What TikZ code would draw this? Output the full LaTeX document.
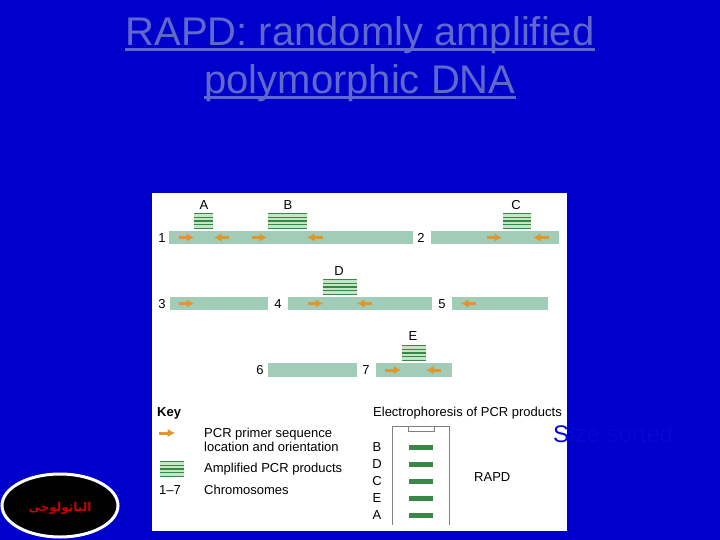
\documentclass[tikz,border=0pt]{standalone}
\usepackage{fontspec}
\setmainfont{Liberation Sans}
\newfontfamily\arabicfont[Script=Arabic]{DejaVu Sans}
\TeXXeTstate=1
\usetikzlibrary{calc,shapes.geometric,arrows.meta}
\tikzset{>={Latex[length=7.5pt,width=8.5pt]}}
\definecolor{slideblue}{RGB}{0,0,204}
\definecolor{titleblue}{RGB}{96,104,204}
\definecolor{sizeblue}{RGB}{6,6,214}
\definecolor{chromgreen}{RGB}{160,204,184}
\definecolor{primerorange}{RGB}{224,150,40}
\definecolor{bandgreen}{RGB}{58,136,72}
\definecolor{stackgreen}{RGB}{196,230,198}
\tikzset{
  chrom/.style={fill=chromgreen, draw=none},
  primer/.style={->, line width=3pt, primerorange},
  stackline/.style={line width=1.3pt, bandgreen},
  lab/.style={font=\fontsize{13}{15}\selectfont, inner sep=0pt, text=black},
  keylab/.style={lab, anchor=base west},
  titletext/.style={font=\fontsize{40}{44}\selectfont, inner sep=0pt, text=titleblue, anchor=base},
  titlerule/.style={line width=2.2pt, titleblue}
}
% one stack of amplified products: left, right, top
\newcommand{\ampstack}[3]{
  \fill[stackgreen] (#1, #3) rectangle (#2, #3+16);
  \foreach \k in {0, 1, 2, 3, 4} {
    \draw[stackline] (#1, #3+0.6+3.7*\k) -- (#2, #3+0.6+3.7*\k);
  }
}
\begin{document}
\begin{tikzpicture}[x=1pt, y=-1pt]
  \useasboundingbox (0, 0) rectangle (720, 540);
  \fill[slideblue] (0, 0) rectangle (720, 540);
  \fill[white] (152, 193) rectangle (567, 531);

  % title
  \node[titletext] (titleA) at (360, 46) {RAPD: randomly amplified};
  \node[titletext] (titleB) at (360, 94) {polymorphic DNA};
  \draw[titlerule] ([yshift=-3.5pt]titleA.base west) -- ([yshift=-3.5pt]titleA.base east);
  \draw[titlerule] ([yshift=-3.5pt]titleB.base west) -- ([yshift=-3.5pt]titleB.base east);

  % chromosomes
  \foreach \xa/\xb/\ya/\yb in {169/413/231/244, 431/559/231/244, 170/268/297/310, 288/432/297/310,
      452/548/297/310, 268/357/363/377, 376/452/363/377} {
    \fill[chrom] (\xa, \ya) rectangle (\xb, \yb);
  }
  \foreach \n/\x/\y in {1/162/238, 2/421/238, 3/162/304, 4/278/304, 5/442/304, 6/260/370, 7/366/370} {
    \node[lab] (chrom\n) at (\x, \y) {\n};
  }

  % primers
  \foreach \xa/\xb/\y in {179/194/237.5, 229/214/237.5, 252/267/237.5, 323/307/237.5, 487/502/237.5,
      549/533/237.5, 179/194/303.5, 308/323/303.5, 372/357/303.5, 476/461/303.5, 385/401/370, 441/426/370} {
    \draw[primer] (\xa, \y) -- (\xb, \y);
  }

  % products
  \ampstack{194}{213}{213}
  \ampstack{268}{307}{213}
  \ampstack{503}{531}{213}
  \ampstack{323}{357}{279}
  \ampstack{402}{426}{345}
  \foreach \n/\x/\y in {A/204/205, B/288/205, C/516/205, D/339/271, E/413/336} {
    \node[lab] (prod\n) at (\x, \y) {\n};
  }

  % key
  \node[keylab, font=\fontsize{13}{15}\selectfont\bfseries] (keyhead) at (157, 416) {Key};
  \draw[primer] (159, 433) -- (175, 433);
  \ampstack{160}{184}{461}
  \node[keylab] (keyA) at (204, 437) {PCR primer sequence};
  \node[keylab] (keyB) at (204, 451) {location and orientation};
  \node[keylab] (keyC) at (204, 472) {Amplified PCR products};
  \node[keylab] (keyD) at (159, 494) {1--7};
  \node[keylab] (keyE) at (204, 494) {Chromosomes};

  % gel
  \node[keylab] (gelhead) at (373, 416) {Electrophoresis of PCR products};
  \draw[gray, line width=0.8pt] (392, 525) -- (392, 426) -- (449, 426) -- (449, 525);
  \draw[gray, line width=0.8pt] (408, 426) -- (408, 431) -- (434, 431) -- (434, 426);
  \foreach \n/\y in {B/447, D/464, C/481, E/498, A/515} {
    \node[lab] (gel\n) at (377, \y) {\n};
    \fill[bandgreen] (409, \y-2.5) rectangle (433, \y+2.5);
  }
  \node[keylab] (gelname) at (474, 481) {RAPD};

  \node[font=\fontsize{24}{28}\selectfont, inner sep=0pt, text=sizeblue, anchor=base west] (sizesorted) at (553, 442) {Size sorted};

  % badge
  \node[ellipse, minimum width=116pt, minimum height=63pt, inner sep=0pt, fill=black, draw=white,
    line width=3pt] (badge) at (60, 505.5) {};
  \node[text=red!80!black, inner sep=0pt, font=\arabicfont\fontsize{12}{14}\selectfont\bfseries] (badgetext) at (60, 508)
    {\beginR الباثولوجى\endR};
\end{tikzpicture}
\end{document}
